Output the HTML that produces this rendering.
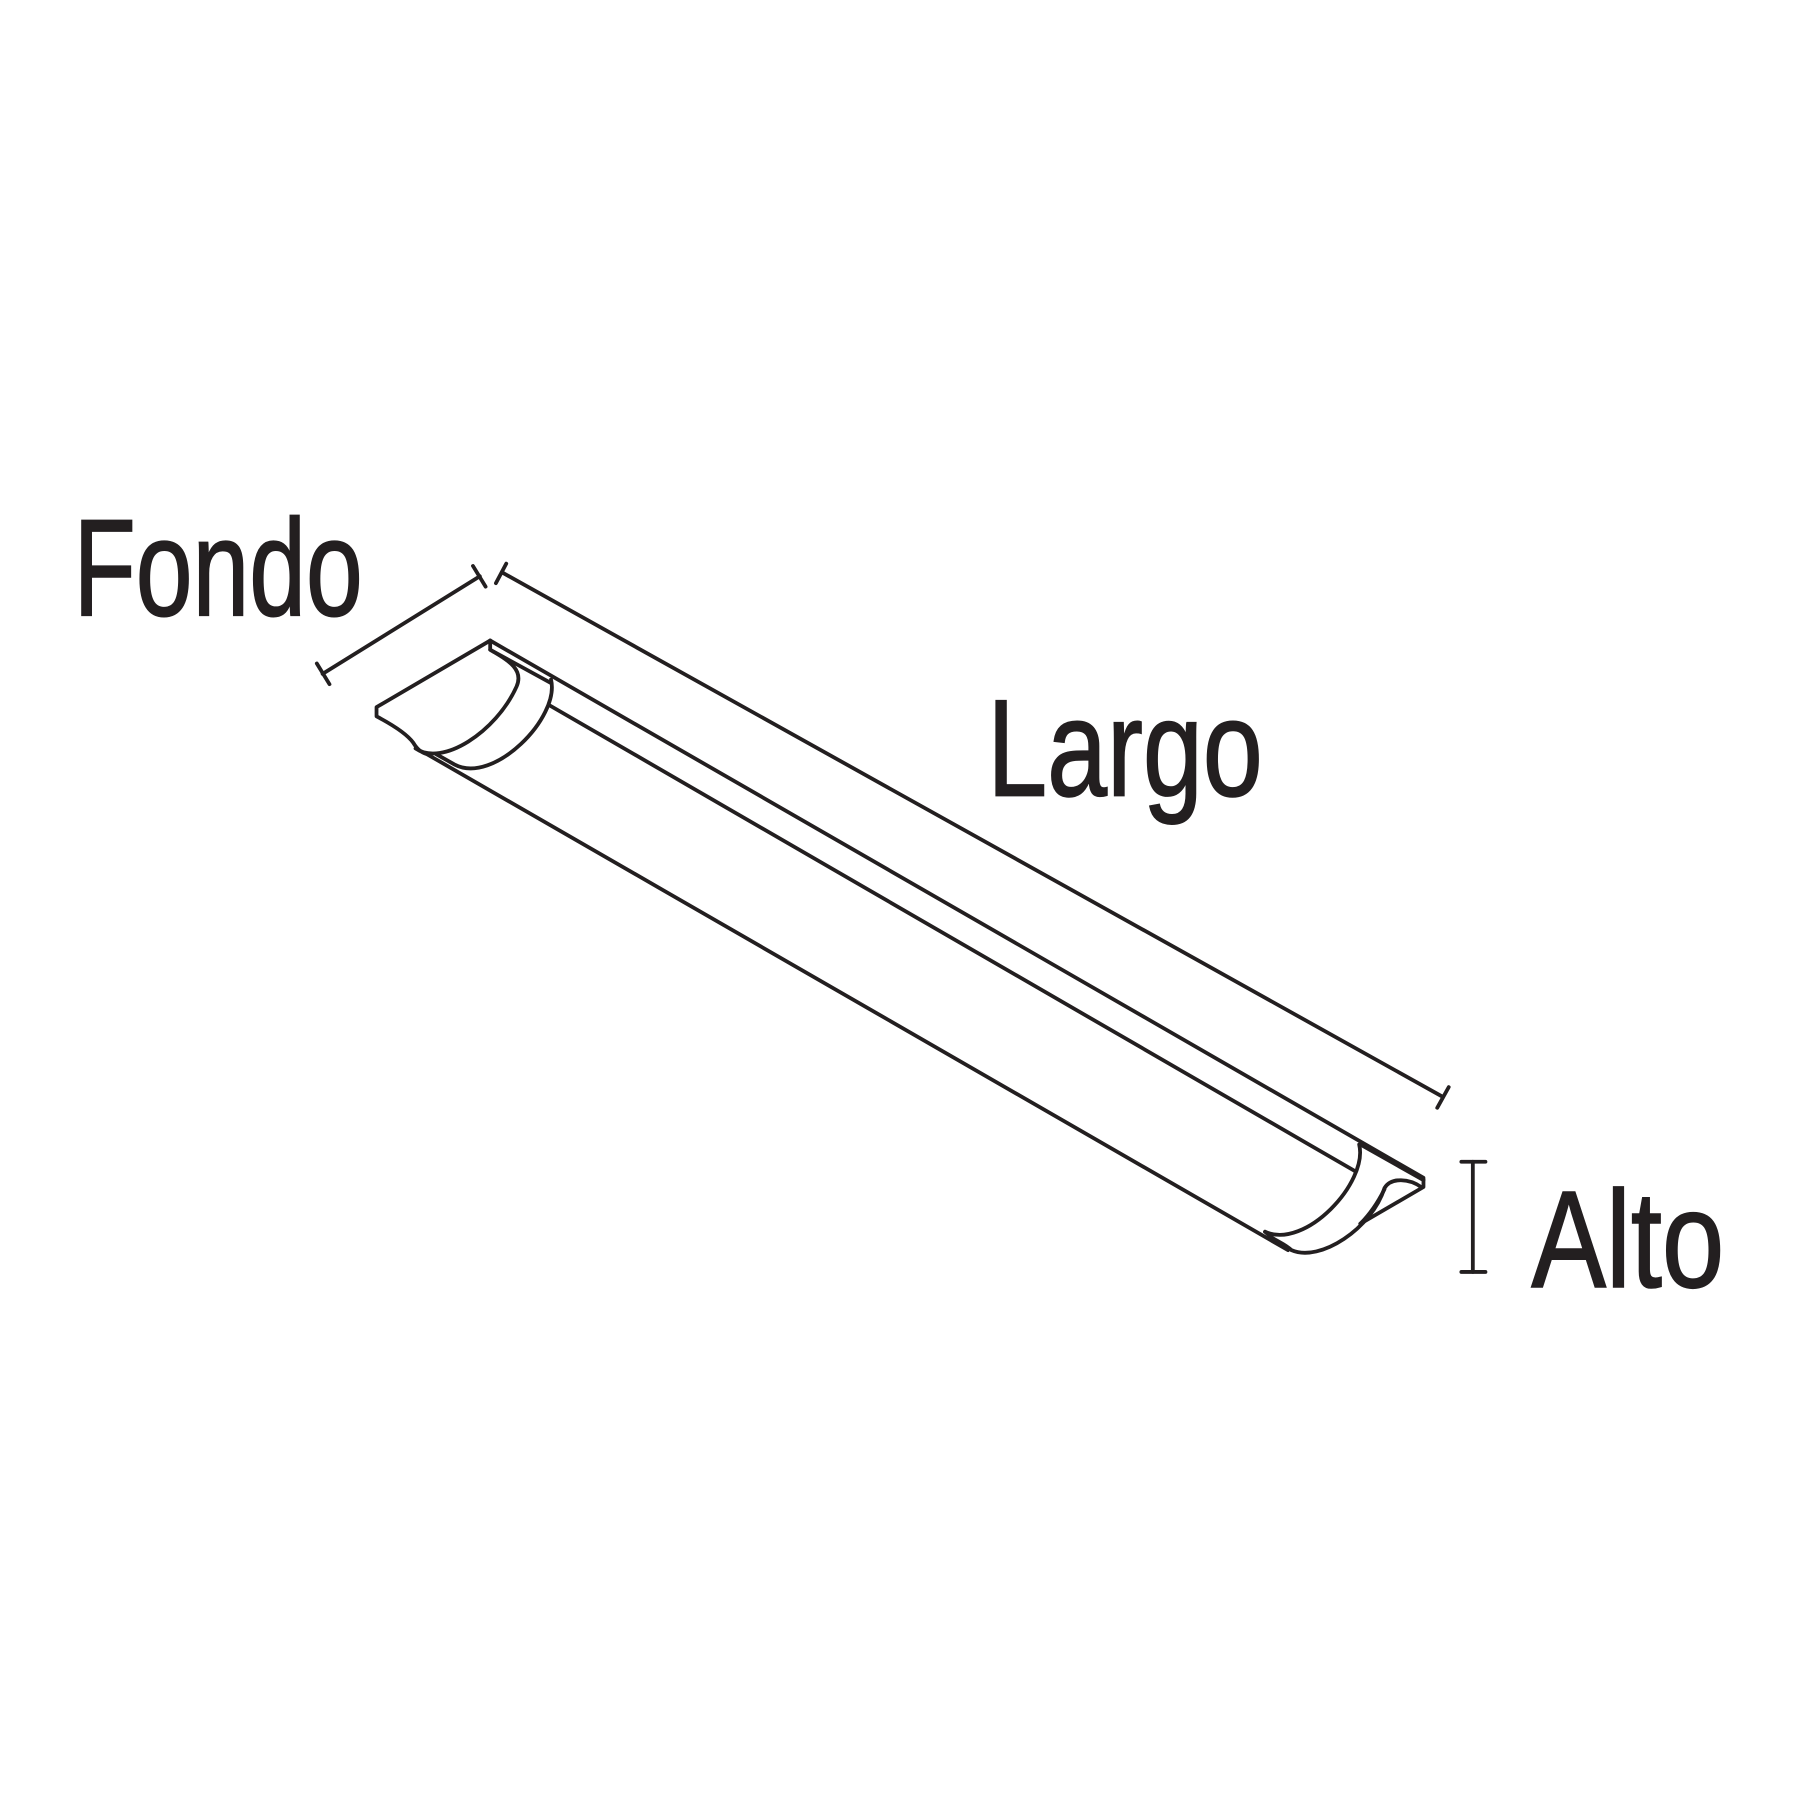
<!DOCTYPE html>
<html><head><meta charset="utf-8"><style>html,body{margin:0;padding:0;background:#fff}svg{display:block}</style></head>
<body>
<svg width="1800" height="1800" viewBox="0 0 1568 1568" xmlns="http://www.w3.org/2000/svg">
<g fill="none" stroke="#231f20" stroke-width="3.3" stroke-linejoin="round" stroke-linecap="round">
<line x1="281" y1="587" x2="418" y2="502"/>
<line x1="276" y1="578" x2="287" y2="596"/>
<line x1="412" y1="493" x2="423" y2="511"/>
<line x1="438" y1="499" x2="1256" y2="955"/>
<line x1="441" y1="491" x2="432" y2="508"/>
<line x1="1262" y1="947" x2="1252" y2="965"/>
<line x1="1283" y1="1012" x2="1283" y2="1108"/>
<line x1="1273" y1="1012" x2="1294" y2="1012"/>
<line x1="1273" y1="1108" x2="1294" y2="1108"/>
<path d="M427 558 L328 616 L328 624 C345 633 355 640 360 647 C363 652 366 655 372 657 L1122 1089"/>
<path d="M427 558 L1240 1026 L1240 1034 L1185 1066"/>
<path d="M427 558 L427 566 C440 574 457 582 450 598 C432 638 385 668 362 652"/>
<path d="M427 566 L480 595"/>
<path d="M480 592 C488 625 430 684 396 666 L380 657"/>
<path d="M478 614 L1180 1020"/>
<path d="M1184 997 C1192 1030 1137 1089 1102 1073"/>
<path d="M1185 997 L1240 1028"/>
<path d="M1102 1073 L1108 1078 C1112 1081 1120 1084 1125 1089 C1150 1100 1195 1070 1206 1035 C1212 1025 1228 1027 1238 1034"/>
<path d="M1185 1066 C1193 1058 1200 1048 1206 1036"/>
</g>
<g font-family="'Liberation Sans', sans-serif" fill="#231f20" stroke="#231f20" stroke-width="1.5" font-size="120">
<text x="64" y="536" textLength="252" lengthAdjust="spacingAndGlyphs">Fondo</text>
<text x="860" y="693" textLength="240" lengthAdjust="spacingAndGlyphs">Largo</text>
<text x="1334" y="1121" textLength="168" lengthAdjust="spacingAndGlyphs">Alto</text>
</g>
</svg>
</body></html>
